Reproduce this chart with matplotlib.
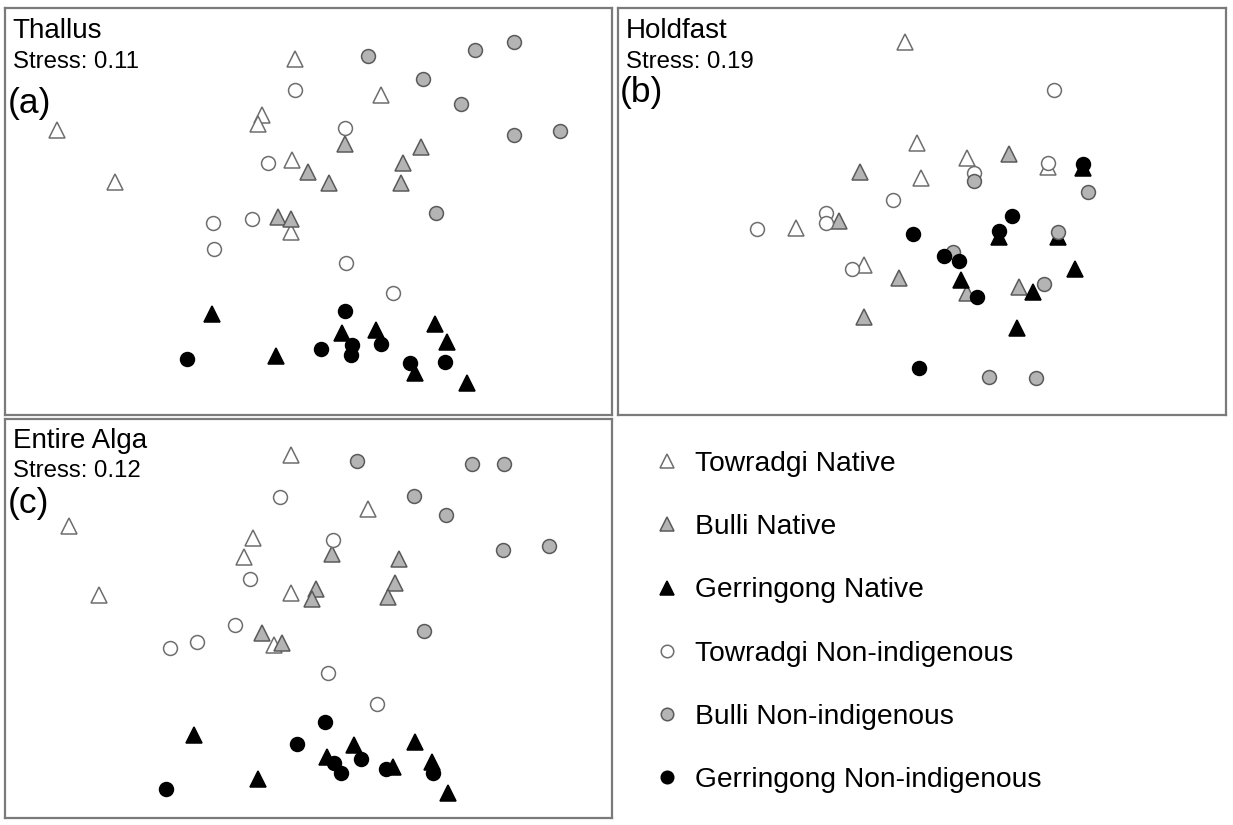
import matplotlib
matplotlib.use('Agg')
import matplotlib.pyplot as plt
from matplotlib.lines import Line2D

plt.rcParams['font.family'] = ['Liberation Sans', 'DejaVu Sans']

# group order: Towradgi / Bulli / Gerringong, native then non-indigenous
groups = ['Towradgi Native', 'Bulli Native', 'Gerringong Native',
          'Towradgi Non-indigenous', 'Bulli Non-indigenous', 'Gerringong Non-indigenous']

# nMDS scores (NMDS1, NMDS2) per group, one pair of lists per panel
thallus_x = [
    [-0.13, 0.73, -0.46, -0.50, -2.52, -1.94, -0.16, -0.17],
    [0.37, 1.13, 0.95, 0.00, 0.21, 0.93, -0.30, -0.17],
    [-0.96, -0.32, 0.34, 0.68, 1.27, 1.39, 1.07, 1.59],
    [-0.13, 0.37, -0.40, -0.56, -0.95, -0.94, 0.38, 0.85],
    [0.60, 1.67, 2.06, 1.15, 1.53, 2.06, 2.52, 1.28],
    [0.37, -1.22, 0.13, 0.44, 0.43, 0.73, 1.02, 1.37],
]
thallus_y = [
    [1.52, 1.16, 0.96, 0.87, 0.81, 0.29, 0.51, -0.21],
    [0.67, 0.64, 0.48, 0.39, 0.28, 0.28, -0.06, -0.08],
    [-1.03, -1.45, -1.22, -1.19, -1.13, -1.31, -1.62, -1.72],
    [1.21, 0.83, 0.48, -0.08, -0.12, -0.38, -0.52, -0.82],
    [1.55, 1.61, 1.69, 1.32, 1.07, 0.76, 0.80, -0.02],
    [-1.00, -1.48, -1.38, -1.34, -1.44, -1.33, -1.52, -1.51],
]

holdfast_x = [
    [-0.17, -0.05, 0.45, -0.01, 1.26, -1.26, -0.58],
    [-0.62, 0.87, -0.83, -0.23, 0.45, 0.97, -0.58],
    [1.61, 0.77, 1.36, 0.39, 1.11, 1.53, 0.95],
    [1.32, 1.26, 0.52, -0.29, -0.96, -0.96, -1.65, -0.70],
    [0.52, 1.66, 1.36, 0.31, 1.22, 0.67, 1.14],
    [1.61, 0.90, -0.09, 0.77, 0.22, 0.37, 0.55, -0.03],
]
holdfast_y = [
    [1.69, 0.68, 0.53, 0.33, 0.44, -0.17, -0.54],
    [0.39, 0.57, -0.10, -0.67, -0.82, -0.76, -1.06],
    [0.43, -0.26, -0.26, -0.69, -0.81, -0.58, -1.17],
    [1.21, 0.48, 0.38, 0.11, -0.02, -0.12, -0.18, -0.58],
    [0.30, 0.19, -0.21, -0.41, -0.73, -1.66, -1.67],
    [0.47, -0.05, -0.23, -0.20, -0.45, -0.50, -0.86, -1.57],
]

entire_x = [
    [-0.17, 0.60, -2.40, -0.55, -0.64, -2.10, -0.17, -0.34],
    [0.24, 0.91, 0.08, 0.04, 0.87, 0.80, -0.46, -0.26],
    [-1.15, -0.50, 0.19, 0.46, 1.07, 0.85, 1.24, 1.40],
    [-0.28, 0.25, -0.58, -0.73, -1.11, -1.39, 0.20, 0.69],
    [0.49, 1.64, 1.96, 1.06, 1.38, 1.95, 2.41, 1.16],
    [0.17, -0.11, -1.43, 0.26, 0.33, 0.53, 0.78, 1.25],
]
entire_y = [
    [1.63, 1.09, 0.92, 0.80, 0.61, 0.23, 0.25, -0.27],
    [0.64, 0.59, 0.29, 0.19, 0.35, 0.21, -0.15, -0.25],
    [-1.17, -1.61, -1.39, -1.27, -1.24, -1.49, -1.44, -1.75],
    [1.21, 0.78, 0.39, -0.07, -0.24, -0.30, -0.55, -0.86],
    [1.57, 1.54, 1.54, 1.22, 1.03, 0.68, 0.72, -0.13],
    [-1.04, -1.26, -1.71, -1.45, -1.55, -1.41, -1.51, -1.55],
]

titles = ['Thallus', 'Holdfast', 'Entire Alga']
stress = [0.11, 0.19, 0.12]
letters = ['(a)', '(b)', '(c)']

markers = ['^', '^', '^', 'o', 'o', 'o']
faces = ['white', '#b4b4b4', 'black', 'white', '#b4b4b4', 'black']
edges = ['#6e6e6e', '#5a5a5a', 'black', '#6e6e6e', '#5a5a5a', 'black']
sizes = [11, 11, 11, 10, 10, 10]


def draw_panel(ax, xs, ys, title, st, letter, ylim, letter_y):
    for g in range(len(groups)):
        ax.plot(xs[g], ys[g], linestyle='none', marker=markers[g],
                markersize=sizes[g], markerfacecolor=faces[g],
                markeredgecolor=edges[g], markeredgewidth=1.1)
    ax.set_xlim(-3.04, 3.04)
    ax.set_ylim(*ylim)
    ax.set_xticks([])
    ax.set_yticks([])
    for s in ax.spines.values():
        s.set_edgecolor('#7a7a7a')
        s.set_linewidth(1.6)
    ax.text(0.013, 0.926, title, transform=ax.transAxes, fontsize=20, va='baseline')
    ax.text(0.013, 0.853, 'Stress: %.2f' % st, transform=ax.transAxes,
            fontsize=17.3, va='baseline')
    ax.text(0.004, letter_y, letter, transform=ax.transAxes, fontsize=25.5, va='baseline')


fig = plt.figure(figsize=(12.33, 8.25), dpi=100)
ax_a = fig.add_axes([0.004, 0.497, 0.492, 0.493])
ax_b = fig.add_axes([0.501, 0.497, 0.493, 0.493])
ax_c = fig.add_axes([0.004, 0.0085, 0.492, 0.484])

draw_panel(ax_a, thallus_x, thallus_y, titles[0], stress[0], letters[0], (-2.04, 2.03), 0.742)
draw_panel(ax_b, holdfast_x, holdfast_y, titles[1], stress[1], letters[1], (-2.04, 2.03), 0.769)
draw_panel(ax_c, entire_x, entire_y, titles[2], stress[2], letters[2], (-2.00, 1.99), 0.764)

handles = [Line2D([], [], linestyle='none', marker=markers[g], markersize=sizes[g] - 1,
                  markerfacecolor=faces[g], markeredgecolor=edges[g], markeredgewidth=1.1)
           for g in range(len(groups))]
fig.legend(handles, groups, loc='upper left', bbox_to_anchor=(0.525, 0.467),
           frameon=False, fontsize=20.3, labelspacing=1.32, handlelength=0.6,
           handletextpad=0.70, borderaxespad=0)

fig.savefig('out.png', dpi=100)
